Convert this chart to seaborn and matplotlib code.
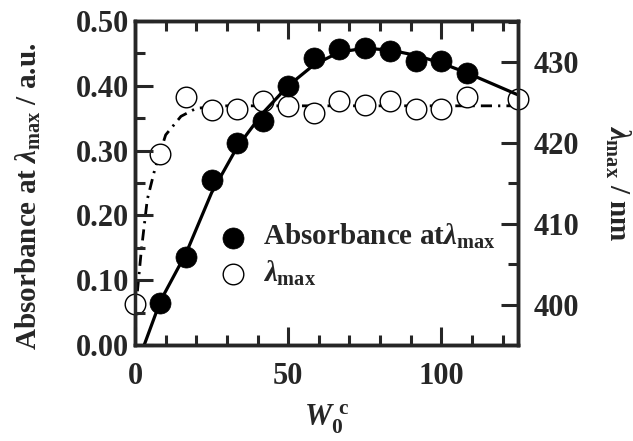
import matplotlib
matplotlib.use("Agg")
import matplotlib.pyplot as plt
import pandas as pd
import seaborn as sns
from matplotlib.ticker import MultipleLocator

# absorbance at lambda_max (filled circles)
abs_x = [8.3, 16.7, 25, 33.3, 41.7, 50, 58.3, 66.7, 75, 83.3, 91.7, 100, 108.3]
abs_y = [0.065, 0.136, 0.255, 0.312, 0.346, 0.400, 0.443, 0.457, 0.459, 0.454, 0.438, 0.438, 0.420]

# lambda_max in nm (open circles)
lam_x = [0, 8.3, 16.7, 25, 33.3, 41.7, 50, 58.3, 66.7, 75, 83.3, 91.7, 100, 108.3, 125]
lam_y = [400.1, 418.6, 425.7, 424.1, 424.2, 425.2, 424.6, 423.7, 425.2, 424.7, 425.2, 424.2, 424.2, 425.7, 425.5]

# guide curves
fit_x = [3, 8.3, 16.7, 25, 33.3, 41.7, 50, 58.3, 66.7, 75, 83.3, 91.7, 100, 108.3, 125]
fit_y = [0.0, 0.068, 0.142, 0.235, 0.305, 0.358, 0.400, 0.432, 0.452, 0.458, 0.455, 0.447, 0.435, 0.420, 0.386]
dd_x = [0, 2, 4, 6.5, 10, 15, 20, 30, 125]
dd_y = [398.5, 406.5, 413.0, 416.8, 421.0, 423.3, 424.3, 424.6, 424.6]

sns.set_theme(style="ticks")
plt.rcParams["font.family"] = ["Liberation Serif", "DejaVu Serif"]
plt.rcParams["font.weight"] = "bold"
plt.rcParams["axes.labelweight"] = "bold"
plt.rcParams["mathtext.fontset"] = "custom"
plt.rcParams["mathtext.rm"] = "Liberation Serif:bold"
plt.rcParams["mathtext.bf"] = "Liberation Serif:bold"
plt.rcParams["mathtext.it"] = "Liberation Serif:bold:italic"

df_abs = pd.DataFrame({"x": abs_x, "y": abs_y})
df_lam = pd.DataFrame({"x": lam_x, "y": lam_y})
df_fit = pd.DataFrame({"x": fit_x, "y": fit_y})
df_dd = pd.DataFrame({"x": dd_x, "y": dd_y})

fig = plt.figure(figsize=(6.33, 4.41), dpi=100)
ax = fig.add_axes([0.2133, 0.2177, 0.6050, 0.7347])
ax2 = ax.twinx()
ax.set_zorder(ax2.get_zorder() + 1)
ax.patch.set_visible(False)

# lambda_max on the right axis
sns.lineplot(data=df_dd, x="x", y="y", ax=ax2, color="black", lw=2.0,
             linestyle=(0, (4, 2.2, 0.8, 2.2)), zorder=2)
sns.scatterplot(data=df_lam, x="x", y="y", ax=ax2, s=220, facecolor="white",
                edgecolor="black", linewidth=1.0, zorder=3, clip_on=False,
                label=r"$\lambda_{\mathrm{max}}$")

# absorbance on the left axis
sns.lineplot(data=df_fit, x="x", y="y", ax=ax, color="black", lw=2.3, zorder=2)
sns.scatterplot(data=df_abs, x="x", y="y", ax=ax, s=230, color="black",
                edgecolor="black", linewidth=0.5, zorder=3, clip_on=False,
                label=r"Absorbance at$\lambda_{\mathrm{max}}$")

ax.set_xlim(0, 125)
ax.set_ylim(0, 0.5)
ax2.set_ylim(395, 435.1)

ax.xaxis.set_major_locator(MultipleLocator(50))
ax.xaxis.set_minor_locator(MultipleLocator(10))
ax.yaxis.set_major_locator(MultipleLocator(0.1))
ax.yaxis.set_minor_locator(MultipleLocator(0.05))
ax.yaxis.set_major_formatter(lambda v, p: f"{v:.2f}")
ax2.yaxis.set_major_locator(MultipleLocator(10))
ax2.yaxis.set_minor_locator(MultipleLocator(5))

for a in (ax, ax2):
    for s in a.spines.values():
        s.set_linewidth(2.5)
        s.set_visible(True)

ax.tick_params(axis="x", which="both", direction="in", top=True, bottom=True,
               width=2.2, labelsize=22, pad=12)
ax.tick_params(axis="x", which="major", length=13)
ax.tick_params(axis="x", which="minor", length=7)
ax.tick_params(axis="y", which="both", direction="in", left=True, right=False,
               width=2.2, labelsize=22, pad=4)
ax.tick_params(axis="y", which="major", length=13)
ax.tick_params(axis="y", which="minor", length=7)
ax2.tick_params(axis="y", which="both", direction="in", right=True,
                width=2.2, labelsize=22, pad=11)
ax2.tick_params(axis="y", which="major", length=12)
ax2.tick_params(axis="y", which="minor", length=7)

ax.set_xlabel(r"$\mathit{W}_{\mathrm{0}}^{\ \mathrm{c}}$", fontsize=22, labelpad=9)
ax.set_ylabel(r"Absorbance at $\lambda_{\mathrm{max}}$ / a.u.", fontsize=21)
ax.yaxis.set_label_coords(-0.240, 0.46)
ax2.set_ylabel(r"$\lambda_{\mathrm{max}}$ / nm", fontsize=21, rotation=270, va="bottom")
ax2.yaxis.set_label_coords(1.222, 0.5)

h1, l1 = ax.get_legend_handles_labels()
h2, l2 = ax2.get_legend_handles_labels()
if ax2.get_legend():
    ax2.get_legend().remove()
ax.legend(h1 + h2, l1 + l2, loc="lower left", bbox_to_anchor=(0.186, 0.14),
          frameon=False, fontsize=21, handletextpad=0.55, labelspacing=0.25,
          borderaxespad=0, handlelength=1.0)

fig.savefig("out.png", dpi=100)
